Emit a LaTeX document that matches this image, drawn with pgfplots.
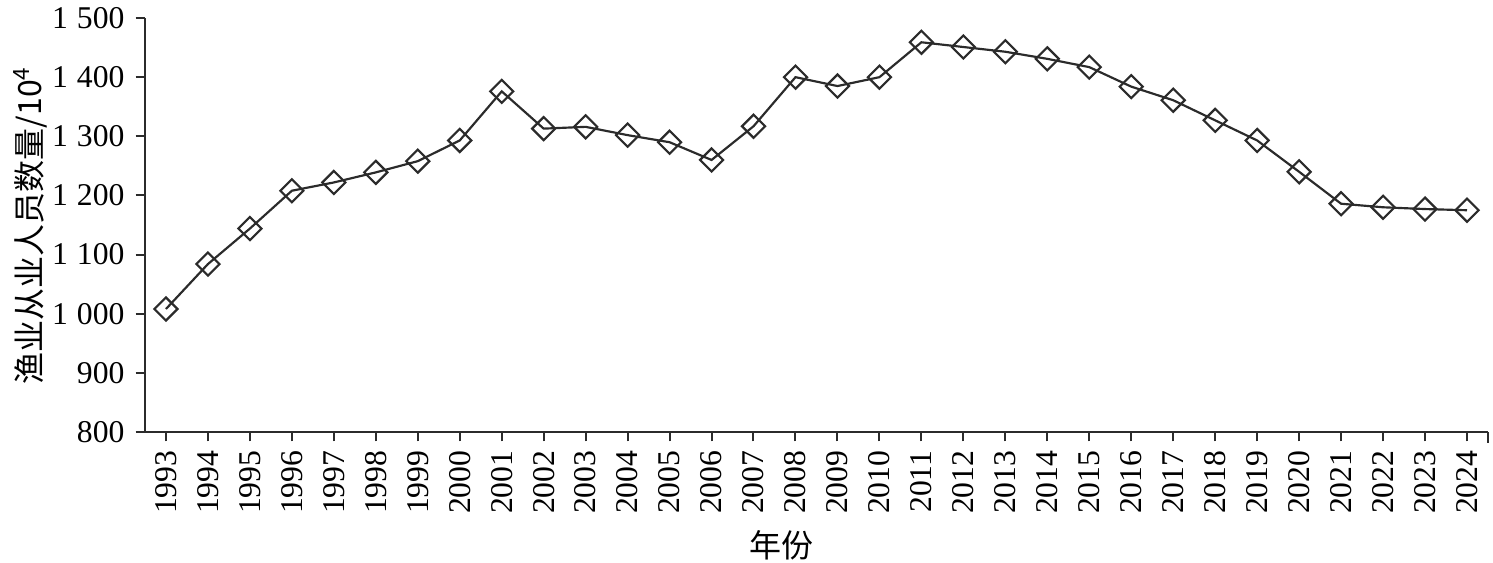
\documentclass[border=0pt]{standalone}
\usepackage{pgfplots}
\pgfplotsset{compat=1.18}
\usepackage{fontspec}
\setmainfont{Liberation Serif}
\newfontfamily\cjk{Noto Sans CJK SC}
\definecolor{ln}{HTML}{2B2B2B}
\begin{document}
\fontsize{9.5}{11}\selectfont
\begin{tikzpicture}
\path[use as bounding box] (-43.5pt,-39.3pt) rectangle (404.4pt,129.6pt);
\begin{axis}[
  at={(0,0)}, anchor=south west,
  scale only axis, width=402.9pt, height=124.2pt,
  xmin=1992.5, xmax=2024.5, ymin=800, ymax=1500,
  axis lines=left, axis line style={ln, line width=0.6pt, -},
  xtick={1993,...,2024}, ytick={800,900,...,1500},
  tick style={ln, line width=0.6pt},
  major tick length=2.8pt,
  extra x ticks={2024.5}, extra x tick labels={},
  extra x tick style={major tick length=3.2pt},
  /pgf/number format/assume math mode=true,
  /pgf/number format/1000 sep={\hspace{0.28em}},
  x tick label style={rotate=90, anchor=east, /pgf/number format/1000 sep={}, font=\fontsize{9.5}{11}\selectfont},
  y tick label style={font=\fontsize{9.5}{11}\selectfont},
  xticklabel shift=-0.6pt,
  yticklabel shift=0pt,
  xlabel={\cjk 年份}, ylabel={\cjk 渔业从业人员数量/10\textsuperscript{4}},
  xlabel style={at={(axis description cs:0.474,0)}, anchor=center, yshift=-33.9pt, font=\fontsize{9.6}{11}\selectfont},
  ylabel style={at={(axis description cs:0,0.5)}, anchor=center, yshift=34.5pt, font=\fontsize{9.6}{11}\selectfont},
  clip=false,
  tick align=outside,
]
\addplot[ln, line width=0.65pt, mark=square, mark size=2.45pt,
  mark options={rotate=45, fill=white, solid, line width=0.65pt}]
coordinates {
(1993,1008) (1994,1084) (1995,1144) (1996,1208) (1997,1222) (1998,1239)
(1999,1258) (2000,1293) (2001,1376) (2002,1313) (2003,1316) (2004,1302)
(2005,1290) (2006,1260) (2007,1317) (2008,1400) (2009,1385) (2010,1400)
(2011,1459) (2012,1451) (2013,1443) (2014,1431) (2015,1417) (2016,1384)
(2017,1361) (2018,1327) (2019,1293) (2020,1240) (2021,1186) (2022,1180)
(2023,1177) (2024,1175)
};
\end{axis}
\end{tikzpicture}
\end{document}
